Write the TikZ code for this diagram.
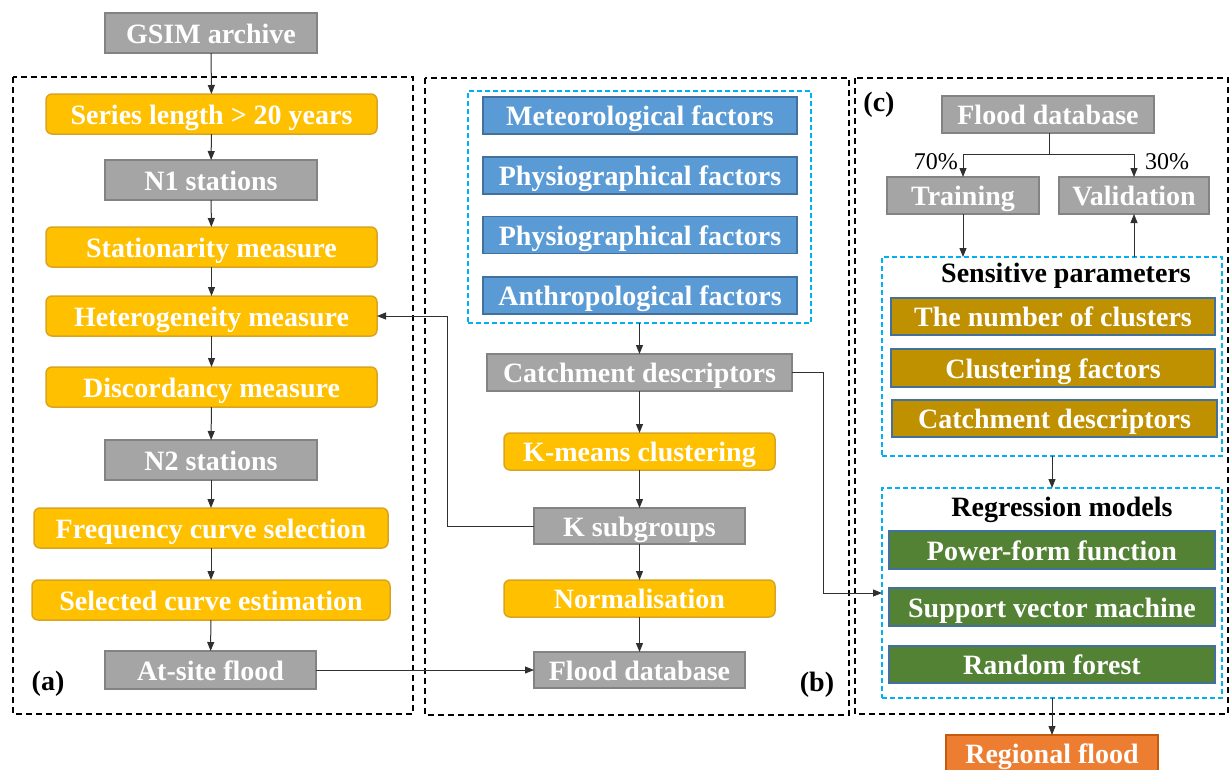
\documentclass[tikz,border=0pt]{standalone}
\usepackage{fontspec}
\setmainfont{Liberation Serif}
\usetikzlibrary{arrows.meta}
\definecolor{gfill}{HTML}{A5A5A5}
\definecolor{gline}{HTML}{838383}
\definecolor{yfill}{HTML}{FFC000}
\definecolor{yline}{HTML}{D9A520}
\definecolor{bfill}{HTML}{5B9BD5}
\definecolor{bline}{HTML}{41719C}
\definecolor{ofill}{HTML}{BF9000}
\definecolor{grfill}{HTML}{548235}
\definecolor{rfill}{HTML}{ED7D31}
\definecolor{rline}{HTML}{C55A11}
\definecolor{cyanl}{HTML}{00B0F0}
\definecolor{conn}{HTML}{303030}
\tikzset{
  base/.style={inner sep=0pt, outer sep=0pt, text=white, font=\fontsize{28}{32}\selectfont\bfseries, line width=1.5pt, text height=21pt, text depth=1pt},
  graybox/.style={base, fill=gfill, draw=gline},
  yelbox/.style={base, fill=yfill, draw=yline, rounded corners=6pt},
  bluebox/.style={base, fill=bfill, draw=bline},
  goldbox/.style={base, fill=ofill, draw=bline},
  greenbox/.style={base, fill=grfill, draw=bline},
  redbox/.style={base, fill=rfill, draw=rline},
  cyanbox/.style={draw=cyanl, dashed, dash pattern=on 5pt off 3pt, line width=1.5pt, inner sep=0pt, outer sep=0pt},
  panel/.style={draw=black, dash pattern=on 6pt off 4pt, line width=1.3pt},
  arr/.style={draw=conn, line width=1pt, -{Triangle[length=9pt,width=7pt]}},
  ln/.style={draw=conn, line width=1pt},
  lbl/.style={font=\fontsize{28}{32}\selectfont\bfseries, text=black, inner sep=0pt},
  pct/.style={font=\fontsize{24}{28}\selectfont, text=black, inner sep=0pt},
}
\begin{document}
\begin{tikzpicture}[x=1pt, y=-1pt]
\useasboundingbox (0,0) rectangle (1231,769);
% panels
\draw[panel] (13,77) rectangle (413,714);
\draw[panel] (425,78) rectangle (849,715);
\draw[panel] (855,78) rectangle (1228,714);
% panel (a)
\node[graybox, minimum width=212pt, minimum height=40pt] (gsim) at (211,33) {GSIM archive};
\node[yelbox, minimum width=331pt, minimum height=40pt] (series) at (211.5,114) {Series length > 20 years};
\node[graybox, minimum width=212pt, minimum height=40pt] (n1) at (211,180) {N1 stations};
\node[yelbox, minimum width=331pt, minimum height=40pt] (stat) at (211.5,247) {Stationarity measure};
\node[yelbox, minimum width=331pt, minimum height=40pt] (het) at (211.5,316) {Heterogeneity measure};
\node[yelbox, minimum width=331pt, minimum height=40pt] (disc) at (211.5,387) {Discordancy measure};
\node[graybox, minimum width=212pt, minimum height=40pt] (n2) at (211,460) {N2 stations};
\node[yelbox, minimum width=354pt, minimum height=40pt] (freq) at (211,528) {Frequency curve selection};
\node[yelbox, minimum width=358pt, minimum height=40pt] (sel) at (211,600) {Selected curve estimation};
\node[graybox, minimum width=211pt, minimum height=38pt] (atsite) at (210.5,670) {At-site flood};
\node[lbl] (la) at (48,684) {(a)};
% panel (b)
\node[cyanbox, minimum width=343pt, minimum height=232pt] (fbox) at (639.5,207) {};
\node[bluebox, minimum width=314pt, minimum height=37pt] (met) at (640,115.5) {Meteorological factors};
\node[bluebox, minimum width=314pt, minimum height=37pt] (phy1) at (640,175.5) {Physiographical factors};
\node[bluebox, minimum width=314pt, minimum height=37pt] (phy2) at (640,235) {Physiographical factors};
\node[bluebox, minimum width=314pt, minimum height=37pt] (ant) at (640,295.5) {Anthropological factors};
\node[graybox, minimum width=305pt, minimum height=37pt] (catch) at (639.5,372.5) {Catchment descriptors};
\node[yelbox, minimum width=271pt, minimum height=37pt] (kmeans) at (639.5,451.5) {K-means clustering};
\node[graybox, minimum width=211pt, minimum height=36pt] (ksub) at (639.5,526) {K subgroups};
\node[yelbox, minimum width=271pt, minimum height=37pt] (norm) at (639.5,598.5) {Normalisation};
\node[graybox, minimum width=211pt, minimum height=36pt] (fdb) at (639.5,670) {Flood database};
\node[lbl] (lb) at (817,685) {(b)};
% panel (c)
\node[lbl] (lc) at (879,105) {(c)};
\node[graybox, minimum width=212pt, minimum height=37pt] (fdbc) at (1048,114.5) {Flood database};
\node[graybox, minimum width=152pt, minimum height=37pt] (train) at (963,195.5) {Training};
\node[graybox, minimum width=150pt, minimum height=37pt] (valid) at (1134,195.5) {Validation};
\node[cyanbox, minimum width=340pt, minimum height=199pt] (sens) at (1052,356.5) {};
\node[lbl] (senst) at (1066,276) {Sensitive parameters};
\node[goldbox, minimum width=324pt, minimum height=37pt] (ncl) at (1053,316.5) {The number of clusters};
\node[goldbox, minimum width=324pt, minimum height=38pt] (cfac) at (1053,368) {Clustering factors};
\node[goldbox, minimum width=325pt, minimum height=37pt] (catc) at (1054.5,418.5) {Catchment descriptors};
\node[cyanbox, minimum width=340pt, minimum height=210pt] (reg) at (1052,593) {};
\node[lbl] (regt) at (1062,510) {Regression models};
\node[greenbox, minimum width=326pt, minimum height=38pt] (pow) at (1052,550) {Power-form function};
\node[greenbox, minimum width=326pt, minimum height=38pt] (svm) at (1052,607) {Support vector machine};
\node[greenbox, minimum width=326pt, minimum height=37pt] (rf) at (1052,664.5) {Random forest};
\node[redbox, minimum width=212pt, minimum height=37pt] (regf) at (1052,753.5) {Regional flood};
\node[pct, anchor=east] (p70) at (958,162) {70\%};
\node[pct, anchor=west] (p30) at (1145,162) {30\%};
% connectors (a)
\draw[arr] (gsim) -- (series);
\draw[arr] (series) -- (n1);
\draw[arr] (n1) -- (stat);
\draw[arr] (stat) -- (het);
\draw[arr] (het) -- (disc);
\draw[arr] (disc) -- (n2);
\draw[arr] (n2) -- (freq);
\draw[arr] (freq) -- (sel);
\draw[arr] (sel) -- (atsite);
\draw[arr] (atsite) -- (fdb);
% connectors (b)
\coordinate (kb) at (447,526);
\draw[arr] (ksub.west) -- (kb) |- (het.east);
\draw[arr] (fbox.south) -- (catch.north);
\draw[arr] (catch) -- (kmeans);
\draw[arr] (kmeans) -- (ksub);
\draw[arr] (ksub) -- (norm);
\draw[arr] (norm) -- (fdb);
\coordinate (cr) at (823,372.5);
\draw[arr] (catch.east) -- (cr) |- (reg.west);
% connectors (c)
\coordinate (sp) at (1049,154);
\draw[ln] (fdbc.south -| sp) -- (sp);
\draw[arr] (sp) -| (train.north);
\draw[arr] (sp) -| (valid.north);
\draw[arr] (train.south) -- (train.south |- sens.north);
\draw[arr] (valid.south |- sens.north) -- (valid.south);
\draw[arr] (sens.south) -- (reg.north);
\draw[arr] (reg.south) -- (regf.north);
\end{tikzpicture}
\end{document}
